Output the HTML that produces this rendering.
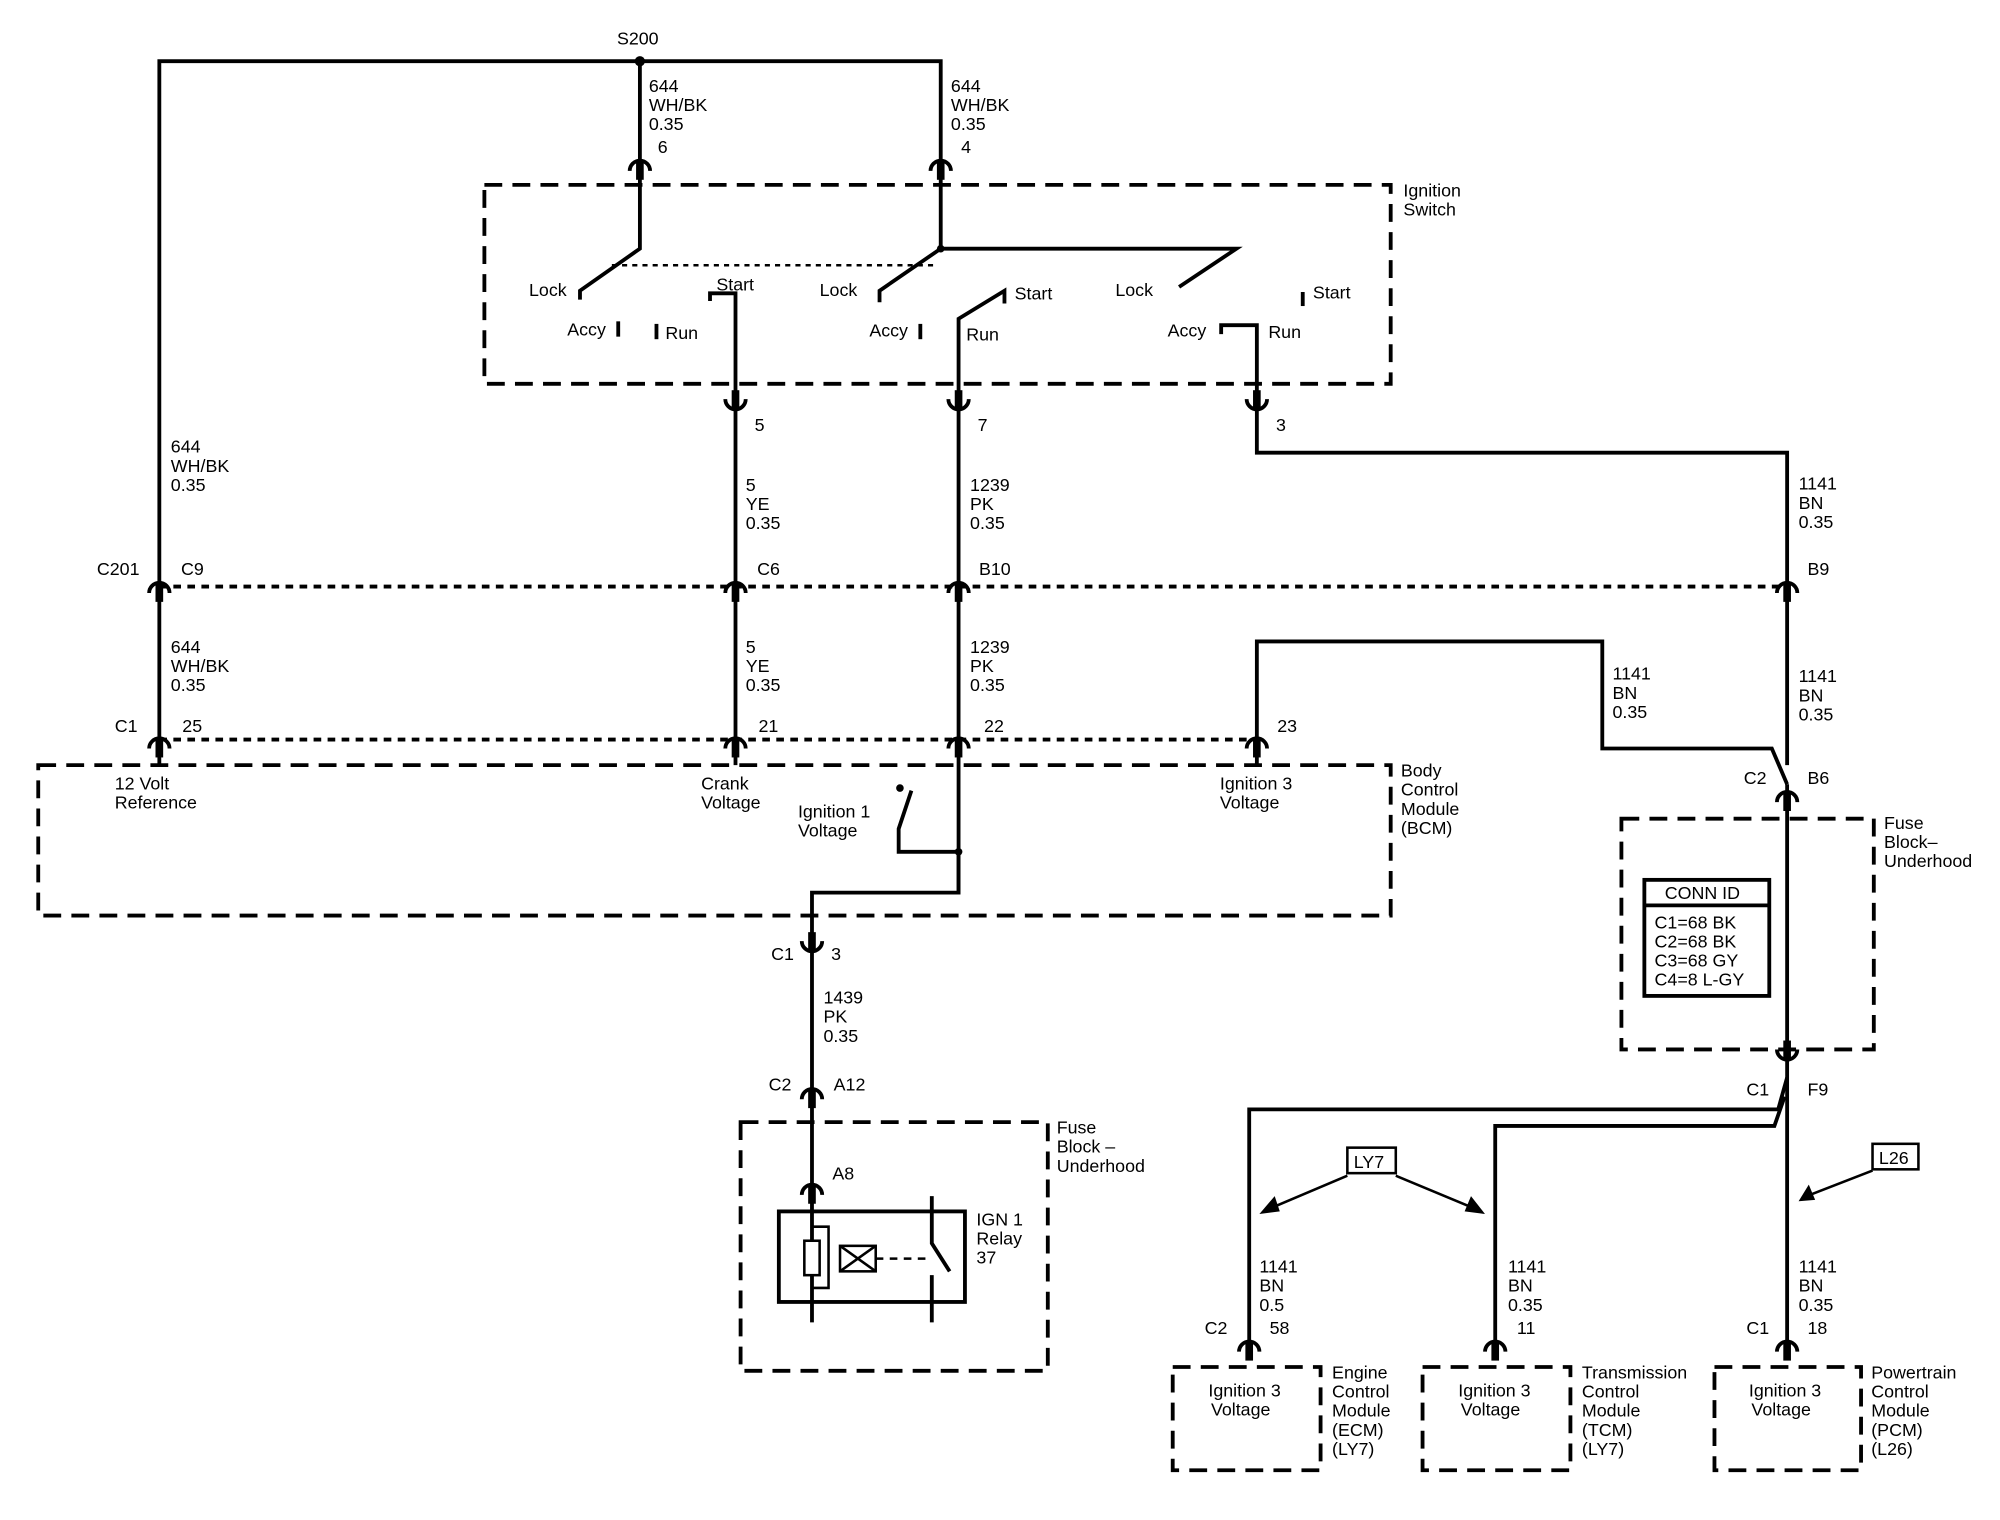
<!DOCTYPE html>
<html><head><meta charset="utf-8"><style>
html,body{margin:0;padding:0;background:#fff;}
svg{display:block}
text{font-family:"Liberation Sans",Arial,sans-serif;font-size:14px;fill:#000;}
</style></head><body>
<svg width="2000" height="1520" viewBox="0 0 1569 1192" preserveAspectRatio="none" xmlns="http://www.w3.org/2000/svg">
<defs>
<g id="cu"><path d="M-8 7 A8 8 0 0 1 8 7" fill="none" stroke="#000" stroke-width="3"/><line x1="0" y1="0" x2="0" y2="14" stroke="#000" stroke-width="6"/></g>
<g id="cd"><path d="M-8 -7 A8 8 0 0 0 8 -7" fill="none" stroke="#000" stroke-width="3"/><line x1="0" y1="0" x2="0" y2="-14" stroke="#000" stroke-width="6"/></g>
</defs>
<g fill="none" stroke="#000" stroke-width="3">
<polyline points="125,600 125,48 738,48 738,125"/>
<line x1="502" y1="48" x2="502" y2="125"/>
<rect x="380" y="145" width="711" height="156" stroke-dasharray="14,8"/>
<polyline points="502,135 502,195 455,228 455,235"/>
<line x1="480" y1="208" x2="735" y2="208" stroke-dasharray="4,4" stroke-width="2"/>
<polyline points="738,135 738,195 690,228 690,237"/>
<polyline points="738,195 970,195 925,225"/>
<line x1="485" y1="252" x2="485" y2="264"/>
<line x1="515" y1="254" x2="515" y2="266"/>
<polyline points="557,236 557,230 577,230 577,320"/>
<line x1="722" y1="254" x2="722" y2="266"/>
<polyline points="752,320 752,250 788,228 788,238"/>
<polyline points="958,262 958,255 986,255 986,320"/>
<line x1="1022" y1="229" x2="1022" y2="240"/>
<line x1="577" y1="320" x2="577" y2="600"/>
<line x1="752" y1="320" x2="752" y2="700"/>
<polyline points="986,320 986,355 1402,355 1402,460"/>
<line x1="125" y1="460" x2="1402" y2="460" stroke-dasharray="6,5"/>
<line x1="125" y1="580" x2="986" y2="580" stroke-dasharray="6,5"/>
<polyline points="986,600 986,503 1257,503 1257,587 1390,587 1402,615"/>
<line x1="1402" y1="460" x2="1402" y2="600"/>
<rect x="30" y="600" width="1061" height="118" stroke-dasharray="14,8"/>
<polyline points="752,668 705,668 705,650 715,620"/>
<polyline points="752,668 752,700 637,700 637,880"/>
<rect x="581" y="880" width="241" height="195" stroke-dasharray="14,8"/>
<line x1="637" y1="880" x2="637" y2="1037"/>
<rect x="611" y="950" width="146" height="71"/>
<polyline points="637,962 650,962 650,1010 637,1010" stroke-width="2"/>
<rect x="631" y="973" width="12" height="27" fill="#fff" stroke-width="2"/>
<rect x="659" y="977" width="28" height="20" stroke-width="2"/>
<path d="M659 977 L687 997 M687 977 L659 997" stroke-width="2"/>
<line x1="687" y1="987" x2="730" y2="987" stroke-dasharray="6,5" stroke-width="2"/>
<polyline points="731,938 731,975 745,997"/>
<line x1="731" y1="1000" x2="731" y2="1037"/>
<rect x="1272" y="642" width="198" height="181" stroke-dasharray="14,8"/>
<line x1="1402" y1="615" x2="1402" y2="1055"/>
<rect x="1290" y="690" width="98" height="91"/>
<line x1="1290" y1="710" x2="1388" y2="710"/>
<polyline points="1402,845 1395,870 980,870 980,1055"/>
<polyline points="1400,860 1392,883 1173,883 1173,1055"/>
<rect x="1057" y="900" width="38" height="20" stroke-width="2"/>
<rect x="1469" y="897" width="36" height="20" stroke-width="2"/>
<line x1="1057" y1="922" x2="998" y2="947" stroke-width="2"/>
<line x1="1095" y1="922" x2="1155" y2="947" stroke-width="2"/>
<line x1="1469" y1="918" x2="1420" y2="937" stroke-width="2"/>
<rect x="920" y="1072" width="116" height="81" stroke-dasharray="14,8"/>
<rect x="1116" y="1072" width="116" height="81" stroke-dasharray="14,8"/>
<rect x="1345" y="1072" width="115" height="81" stroke-dasharray="14,8"/>
</g>
<g fill="#000">
<circle cx="502" cy="48" r="4"/><circle cx="738" cy="195" r="3"/><circle cx="752" cy="668" r="3"/><circle cx="706" cy="618" r="3"/>
<path d="M988 952 L1000 938 L1004 950 Z"/><path d="M1165 952 L1149 950 L1154 938 Z"/><path d="M1411 942 L1419 929 L1424 941 Z"/>
</g>
<use href="#cu" x="502" y="127"/><use href="#cu" x="738" y="127"/>
<use href="#cd" x="577" y="320"/><use href="#cd" x="752" y="320"/><use href="#cd" x="986" y="320"/>
<use href="#cu" x="125" y="458"/><use href="#cu" x="577" y="458"/><use href="#cu" x="752" y="458"/><use href="#cu" x="1402" y="458"/>
<use href="#cu" x="125" y="580"/><use href="#cu" x="577" y="580"/><use href="#cu" x="752" y="580"/><use href="#cu" x="986" y="580"/>
<use href="#cd" x="637" y="745"/><use href="#cu" x="637" y="855"/><use href="#cu" x="637" y="930"/>
<use href="#cu" x="1402" y="622"/><use href="#cd" x="1402" y="830"/>
<use href="#cu" x="980" y="1053"/><use href="#cu" x="1173" y="1053"/><use href="#cu" x="1402" y="1053"/>
<g>
<text x="484" y="35">S200</text>
<text x="509" y="72">644</text><text x="509" y="87">WH/BK</text><text x="509" y="102">0.35</text><text x="516" y="120">6</text>
<text x="746" y="72">644</text><text x="746" y="87">WH/BK</text><text x="746" y="102">0.35</text><text x="754" y="120">4</text>
<text x="1101" y="154">Ignition</text><text x="1101" y="169">Switch</text>
<text x="415" y="232">Lock</text><text x="445" y="263">Accy</text><text x="522" y="266">Run</text><text x="562" y="228">Start</text>
<text x="643" y="232">Lock</text><text x="682" y="264">Accy</text><text x="758" y="267">Run</text><text x="796" y="235">Start</text>
<text x="875" y="232">Lock</text><text x="916" y="264">Accy</text><text x="995" y="265">Run</text><text x="1030" y="234">Start</text>
<text x="592" y="338">5</text><text x="767" y="338">7</text><text x="1001" y="338">3</text>
<text x="134" y="355">644</text><text x="134" y="370">WH/BK</text><text x="134" y="385">0.35</text>
<text x="585" y="385">5</text><text x="585" y="400">YE</text><text x="585" y="415">0.35</text>
<text x="761" y="385">1239</text><text x="761" y="400">PK</text><text x="761" y="415">0.35</text>
<text x="1411" y="384">1141</text><text x="1411" y="399">BN</text><text x="1411" y="414">0.35</text>
<text x="76" y="451">C201</text><text x="142" y="451">C9</text><text x="594" y="451">C6</text><text x="768" y="451">B10</text><text x="1418" y="451">B9</text>
<text x="134" y="512">644</text><text x="134" y="527">WH/BK</text><text x="134" y="542">0.35</text>
<text x="585" y="512">5</text><text x="585" y="527">YE</text><text x="585" y="542">0.35</text>
<text x="761" y="512">1239</text><text x="761" y="527">PK</text><text x="761" y="542">0.35</text>
<text x="1265" y="533">1141</text><text x="1265" y="548">BN</text><text x="1265" y="563">0.35</text>
<text x="1411" y="535">1141</text><text x="1411" y="550">BN</text><text x="1411" y="565">0.35</text>
<text x="90" y="574">C1</text><text x="143" y="574">25</text><text x="595" y="574">21</text><text x="772" y="574">22</text><text x="1002" y="574">23</text>
<text x="1368" y="615">C2</text><text x="1418" y="615">B6</text>
<text x="90" y="619">12 Volt</text><text x="90" y="634">Reference</text>
<text x="550" y="619">Crank</text><text x="550" y="634">Voltage</text>
<text x="626" y="641">Ignition 1</text><text x="626" y="656">Voltage</text>
<text x="957" y="619">Ignition 3</text><text x="957" y="634">Voltage</text>
<text x="1099" y="609">Body</text><text x="1099" y="624">Control</text><text x="1099" y="639">Module</text><text x="1099" y="654">(BCM)</text>
<text x="1478" y="650">Fuse</text><text x="1478" y="665">Block–</text><text x="1478" y="680">Underhood</text>
<text x="1306" y="705">CONN ID</text>
<text x="1298" y="728">C1=68 BK</text><text x="1298" y="743">C2=68 BK</text><text x="1298" y="758">C3=68 GY</text><text x="1298" y="773">C4=8 L-GY</text>
<text x="605" y="753">C1</text><text x="652" y="753">3</text>
<text x="646" y="787">1439</text><text x="646" y="802">PK</text><text x="646" y="817">0.35</text>
<text x="603" y="855">C2</text><text x="654" y="855">A12</text>
<text x="1370" y="859">C1</text><text x="1418" y="859">F9</text>
<text x="829" y="889">Fuse</text><text x="829" y="904">Block –</text><text x="829" y="919">Underhood</text>
<text x="653" y="925">A8</text>
<text x="766" y="961">IGN 1</text><text x="766" y="976">Relay</text><text x="766" y="991">37</text>
<text x="1062" y="916">LY7</text><text x="1474" y="913">L26</text>
<text x="988" y="998">1141</text><text x="988" y="1013">BN</text><text x="988" y="1028">0.5</text>
<text x="1183" y="998">1141</text><text x="1183" y="1013">BN</text><text x="1183" y="1028">0.35</text>
<text x="1411" y="998">1141</text><text x="1411" y="1013">BN</text><text x="1411" y="1028">0.35</text>
<text x="945" y="1046">C2</text><text x="996" y="1046">58</text><text x="1190" y="1046">11</text><text x="1370" y="1046">C1</text><text x="1418" y="1046">18</text>
<text x="948" y="1095">Ignition 3</text><text x="950" y="1110">Voltage</text>
<text x="1144" y="1095">Ignition 3</text><text x="1146" y="1110">Voltage</text>
<text x="1372" y="1095">Ignition 3</text><text x="1374" y="1110">Voltage</text>
<text x="1045" y="1081">Engine</text><text x="1045" y="1096">Control</text><text x="1045" y="1111">Module</text><text x="1045" y="1126">(ECM)</text><text x="1045" y="1141">(LY7)</text>
<text x="1241" y="1081">Transmission</text><text x="1241" y="1096">Control</text><text x="1241" y="1111">Module</text><text x="1241" y="1126">(TCM)</text><text x="1241" y="1141">(LY7)</text>
<text x="1468" y="1081">Powertrain</text><text x="1468" y="1096">Control</text><text x="1468" y="1111">Module</text><text x="1468" y="1126">(PCM)</text><text x="1468" y="1141">(L26)</text>
</g>
</svg>
</body></html>
